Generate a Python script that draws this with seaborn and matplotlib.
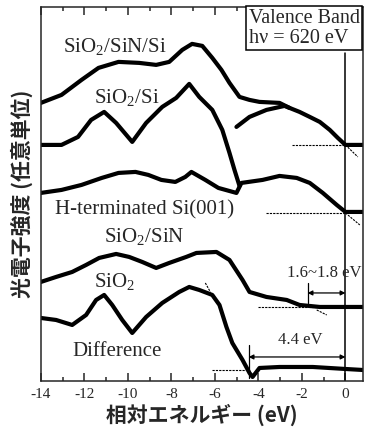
#!/usr/bin/env python3

import seaborn as sns
import matplotlib.pyplot as plt
import pandas

sns.set_style("ticks")
plt.rcParams["font.family"] = ["Liberation Serif", "DejaVu Serif"]
plt.rcParams["mathtext.fontset"] = "custom"
plt.rcParams["mathtext.rm"] = "Liberation Serif"
plt.rcParams["axes.unicode_minus"] = False

# Relative energy (eV) and intensity (arb. units)
sio2_sin_si_x = [-14.0, -13.05, -12.13, -11.35, -10.43, -9.48, -8.70, -8.10, -7.50, -7.05,
                 -6.58, -6.12, -5.70, -5.33, -4.87, -4.41, -3.95, -3.03, -2.57, -2.11,
                 -1.64, -1.18, -0.72, -0.35, 0.0, 0.8]
sio2_sin_si_y = [278, 286, 301, 313, 319, 318, 316, 319, 331, 337,
                 335, 323, 311, 298, 284, 281, 279, 278, 273, 269,
                 264, 259, 251, 243, 236, 236]

sio2_si_x = [-14.0, -13.05, -12.29, -11.69, -11.09, -10.54, -9.80, -9.16, -8.42, -7.78,
             -7.18, -6.72, -6.12, -5.66, -5.33, -5.10, -4.87]
sio2_si_y = [236, 236, 244, 261, 269, 258, 239, 258, 274, 283,
             297, 284, 271, 251, 228, 211, 195]

# substrate part of SiO2/Si, joins the upper curve
sio2_si_sub_x = [-5.01, -4.41, -3.63, -2.80, -2.57]
sio2_si_sub_y = [254, 264, 271, 275, 273]

hterm_x = [-14.0, -13.05, -12.13, -11.20, -10.43, -9.65, -9.06, -8.46, -7.82, -7.36,
           -7.08, -6.44, -5.84, -5.01, -4.78, -3.81, -3.03, -2.24, -1.64, -1.04,
           -0.40, 0.0, 0.8]
hterm_y = [188, 191, 196, 203, 208, 209, 206, 201, 199, 204,
           209, 201, 193, 188, 198, 201, 205, 203, 198, 188,
           176, 169, 169]

sio2_sin_x = [-14.0, -13.30, -12.56, -11.92, -11.32, -10.54, -9.94, -9.34, -8.70, -8.10,
              -7.32, -6.85, -5.93, -5.33, -4.73, -4.41, -3.63, -2.70, -2.11, -1.18,
              0.0, 0.8]
sio2_sin_y = [99, 104, 109, 116, 123, 127, 124, 119, 113, 118,
              124, 128, 129, 121, 101, 89, 84, 81, 76, 74,
              74, 74]

sio2_x = [-14.0, -13.30, -12.56, -11.92, -11.46, -11.09, -10.72, -10.26, -9.80, -9.16,
          -8.42, -7.64, -7.18, -6.72, -6.12, -5.79, -5.47, -5.20, -4.73, -4.41,
          -4.27, -3.95, -3.03, -1.50, 0.0, 0.8]
sio2_y = [63, 61, 56, 66, 81, 86, 76, 61, 48, 64,
          78, 89, 94, 91, 86, 76, 54, 38, 21, 8,
          4, 13, 14, 14, 12, 11]

# dashed baselines and edge extrapolations: (x0, x1, y0, y1)
guides = [
    (-2.47, 0.0, 236, 236), (0.0, 0.57, 236, 224),
    (-3.63, 0.0, 168, 168), (0.0, 0.66, 168, 156),
    (-4.04, 0.0, 74, 74), (-1.32, -0.86, 71, 66),
    (-6.12, -4.41, 11, 11), (-6.44, -6.21, 98, 89),
]

curves = [
    (sio2_sin_si_x, sio2_sin_si_y),
    (sio2_si_x, sio2_si_y),
    (sio2_si_sub_x, sio2_si_sub_y),
    (hterm_x, hterm_y),
    (sio2_sin_x, sio2_sin_y),
    (sio2_x, sio2_y),
]


def main():
    fig = plt.figure(figsize=(3.68, 4.30), dpi=100)
    ax = fig.add_axes([0.111, 0.114, 0.875, 0.870])

    for xs, ys in curves:
        df = pandas.DataFrame({"x": xs, "y": ys})
        sns.lineplot(data=df, x="x", y="y", sort=False, estimator=None,
                     color="black", lw=3.0, ax=ax)

    for x0, x1, y0, y1 in guides:
        ax.plot([x0, x1], [y0, y1], color="black", lw=0.8, ls=(0, (2, 1)))

    # Fermi level line
    ax.plot([0, 0], [0, 328], color="black", lw=1.1)

    ax.set_xlim(-14, 0.8)
    ax.set_ylim(0, 374)

    # gap arrows
    ax.annotate("", xy=(0, 88), xytext=(-1.74, 88),
                arrowprops=dict(arrowstyle="<|-|>", color="black", lw=0.9,
                                mutation_scale=7, shrinkA=0, shrinkB=0))
    ax.plot([-1.74, -1.74], [78, 98], color="black", lw=0.9)
    ax.annotate("", xy=(0, 24), xytext=(-4.45, 24),
                arrowprops=dict(arrowstyle="<|-|>", color="black", lw=0.9,
                                mutation_scale=7, shrinkA=0, shrinkB=0))
    ax.plot([-4.45, -4.45], [3, 36], color="black", lw=0.9)

    fs = 15
    ax.text(-10.59, 334, "SiO$_2$/SiN/Si", ha="center", va="center", fontsize=fs)
    ax.text(-10.07, 283, "SiO$_2$/Si", ha="center", va="center", fontsize=fs)
    ax.text(-9.23, 171, "H-terminated Si(001)", ha="center", va="center", fontsize=fs)
    ax.text(-9.25, 144, "SiO$_2$/SiN", ha="center", va="center", fontsize=fs)
    ax.text(-10.63, 99, "SiO$_2$", ha="center", va="center", fontsize=fs)
    ax.text(-10.48, 29, "Difference", ha="center", va="center", fontsize=fs)
    ax.text(-0.96, 108, "1.6~1.8 eV", ha="center", va="center", fontsize=12)
    ax.text(-2.1, 41, "4.4 eV", ha="center", va="center", fontsize=12)

    ax.text(-4.45, 372, "Valence Band\nhν = 620 eV", ha="left", va="top",
            fontsize=14.5, linespacing=1.05,
            bbox=dict(boxstyle="square,pad=0.12", fc="white", ec="black", lw=1.1))

    ax.set_xticks(range(-14, 1, 2))
    ax.set_xticks(range(-14, 1), minor=True)
    ax.set_yticks([])
    ax.tick_params(axis="x", which="both", direction="in", top=True, width=1.1,
                   labelsize=11, pad=5)
    ax.tick_params(axis="x", which="major", length=6)
    ax.tick_params(axis="x", which="minor", length=3)
    for spine in ax.spines.values():
        spine.set_visible(True)
        spine.set_linewidth(1.1)

    cjk = ["Noto Sans CJK JP", "DejaVu Sans"]
    ax.set_xlabel("相対エネルギー (eV)", family=cjk, fontweight="bold",
                  fontsize=15, labelpad=2)
    ax.set_ylabel("光電子強度 (任意単位)", family=cjk, fontweight="bold",
                  fontsize=15, labelpad=6)

    fig.savefig("out.png", dpi=100)
    plt.close(fig)


if __name__ == "__main__":
    main()
